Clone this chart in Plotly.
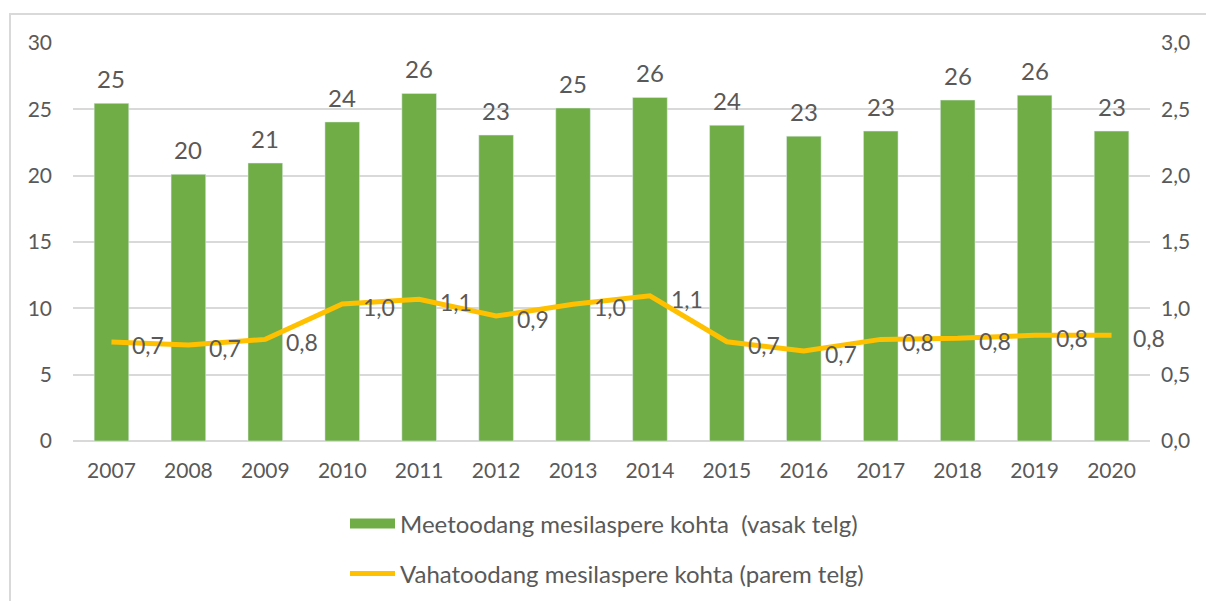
import plotly.graph_objects as go

years = ["2007", "2008", "2009", "2010", "2011", "2012", "2013", "2014",
         "2015", "2016", "2017", "2018", "2019", "2020"]
honey = [25.45, 20.1, 20.95, 24.05, 26.2, 23.06, 25.1, 25.9, 23.8, 22.98, 23.36, 25.7, 26.07, 23.36]
wax = [0.746, 0.723, 0.766, 1.032, 1.068, 0.942, 1.03, 1.095, 0.748, 0.678, 0.766, 0.774, 0.797, 0.797]
left_ticks = [0, 5, 10, 15, 20, 25, 30]
right_ticks = [0, 0.5, 1.0, 1.5, 2.0, 2.5, 3.0]
name_bar = "Meetoodang mesilaspere kohta  (vasak telg)"
name_line = "Vahatoodang mesilaspere kohta (parem telg)"

FONT = "Lato, 'Open Sans', sans-serif"
TXT = "#595959"
GRID = "#D9D9D9"
GREEN = "#70AD47"
GOLD = "#FFC000"

fig = go.Figure()
fig.add_trace(go.Bar(x=years, y=honey, name=name_bar, marker_color=GREEN,
                     width=0.45, showlegend=False))
fig.add_trace(go.Scatter(x=years, y=wax, name=name_line, mode="lines",
                         line=dict(color=GOLD, width=5), yaxis="y2", legend="legend2"))
# legend-only entry so the bar key is drawn as a wide block like the reference
fig.add_trace(go.Scatter(x=[None], y=[None], name=name_bar, mode="lines",
                         line=dict(color=GREEN, width=14), legend="legend"))

annotations = []
for i, v in enumerate(honey):
    annotations.append(dict(x=i, y=v, xref="x", yref="y", text=f"{v:.0f}",
                            showarrow=False, yanchor="bottom", yshift=8,
                            font=dict(size=24, color=TXT, family=FONT)))
for i, v in enumerate(wax):
    annotations.append(dict(x=i, y=v, xref="x", yref="y2", text=f"{v:.1f}".replace(".", ","),
                            showarrow=False, xanchor="left", xshift=19, yanchor="middle", yshift=-3,
                            font=dict(size=23, color=TXT, family=FONT)))

fig.update_layout(
    width=1206, height=601,
    margin=dict(l=73, r=56, t=43, b=160, autoexpand=False),
    paper_bgcolor="white", plot_bgcolor="white",
    font=dict(family=FONT, color=TXT, size=20),
    separators=", ",
    xaxis=dict(type="category", range=[-0.5, len(years) - 0.5], showgrid=False, showline=False,
               ticks="", tickfont=dict(size=21, color=TXT), ticklabelstandoff=15),
    yaxis=dict(range=[0, 30], tickvals=left_ticks, showgrid=True, gridcolor=GRID, gridwidth=1.5,
               zeroline=True, zerolinecolor=GRID, zerolinewidth=1.5, showline=False,
               ticklabelstandoff=20, tickfont=dict(size=21, color=TXT)),
    yaxis2=dict(range=[0, 3], tickvals=right_ticks, tickformat=".1f", overlaying="y", side="right",
                showgrid=False, zeroline=False, showline=False, ticklabelstandoff=10,
                tickfont=dict(size=21, color=TXT)),
    legend=dict(x=345 / 1206, y=1 - 524 / 601, xref="container", yref="container",
                xanchor="left", yanchor="middle", orientation="h",
                font=dict(size=24, color=TXT, family=FONT), itemwidth=45, bgcolor="rgba(0,0,0,0)"),
    legend2=dict(x=345 / 1206, y=1 - 574 / 601, xref="container", yref="container",
                 xanchor="left", yanchor="middle", orientation="h",
                 font=dict(size=24, color=TXT, family=FONT), itemwidth=45, bgcolor="rgba(0,0,0,0)"),
    annotations=annotations,
    showlegend=True,
)

fig.add_shape(type="rect", xref="paper", yref="paper",
              x0=(10 - 73) / 1077, x1=(1220 - 73) / 1077,
              y0=-(620 - 441) / 398, y1=(441 - 14) / 398,
              line=dict(color=GRID, width=2), fillcolor="rgba(0,0,0,0)", layer="below")

fig.write_html("out.html", config={"displayModeBar": False},
               post_script="document.body.style.margin='0';")
